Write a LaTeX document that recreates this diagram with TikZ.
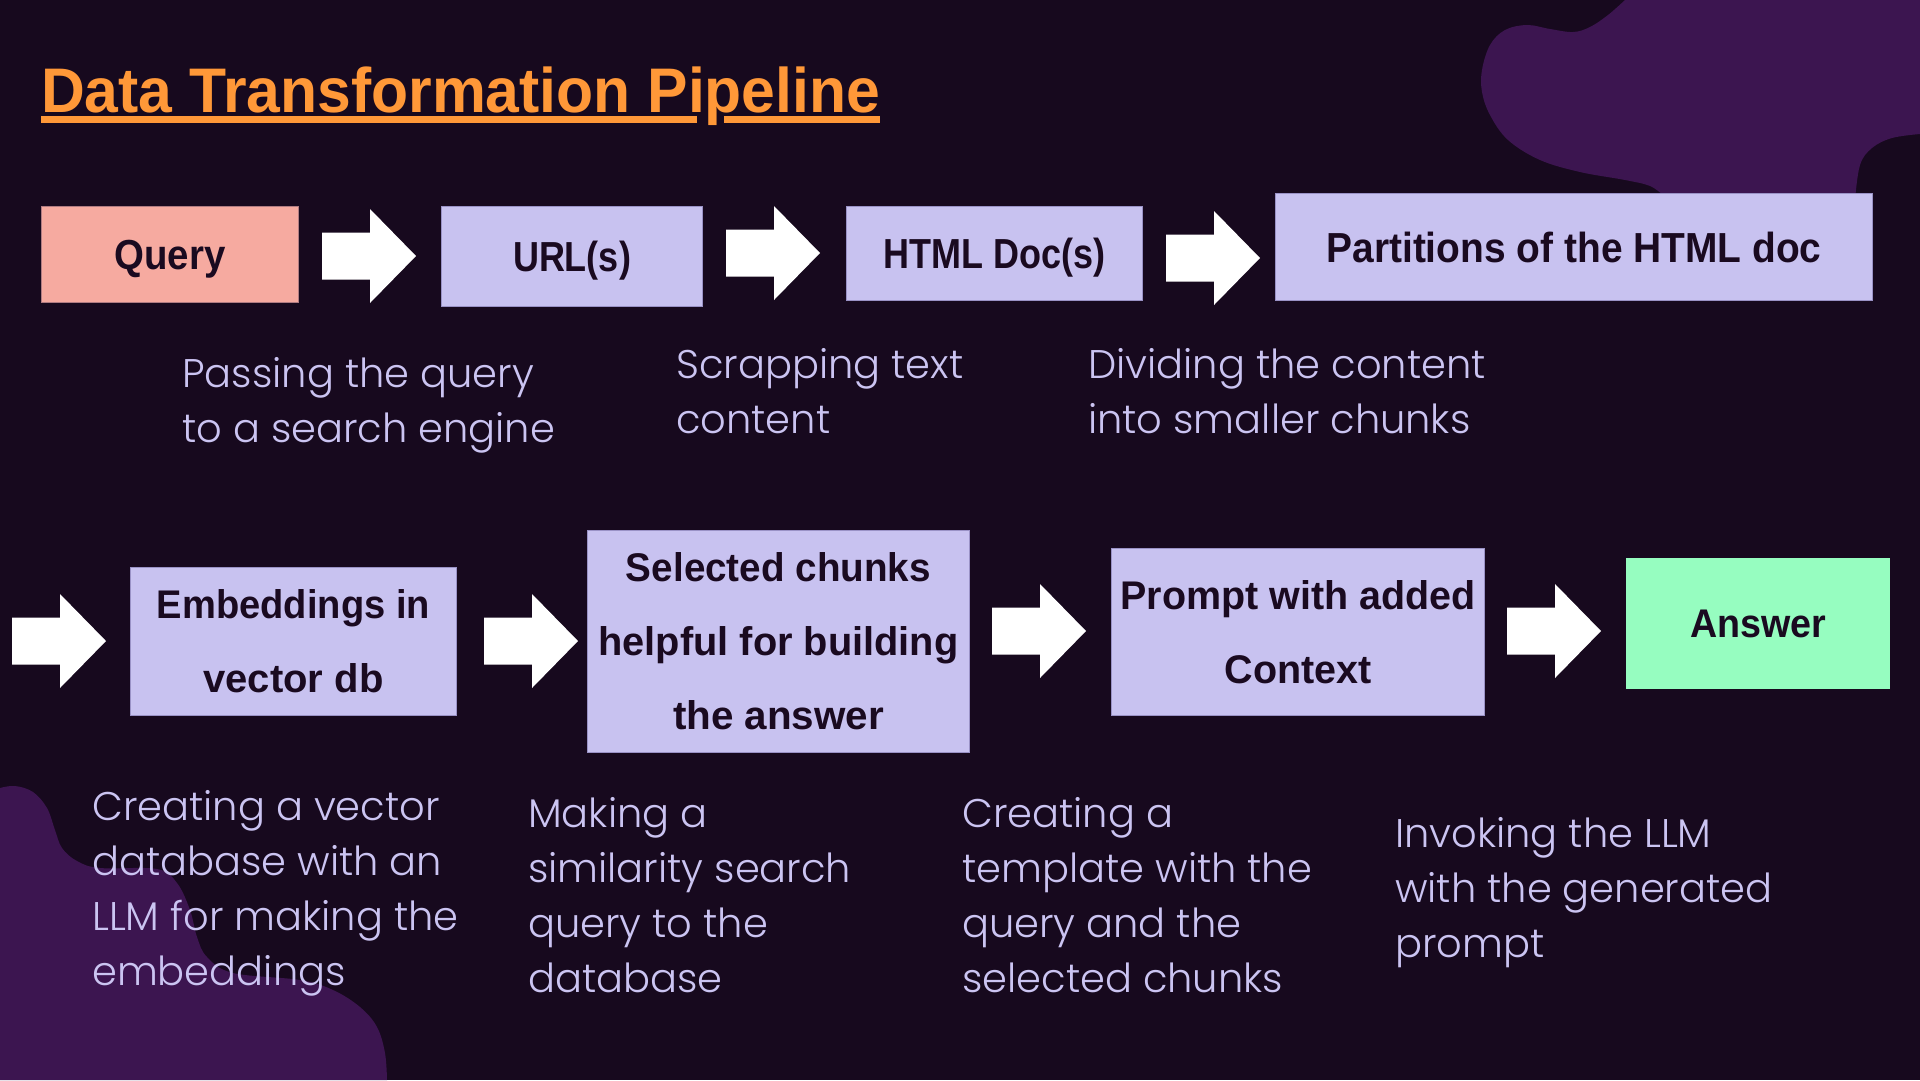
\documentclass[tikz,border=0pt]{standalone}
\usepackage{fontspec}
\usepackage{graphicx}
% thin geometric face for the step descriptions
\IfFontExistsTF{Poppins Light}
  {\newfontfamily\descfont{Poppins Light}}
  {\newfontfamily\descfont{Poppins}}
% heavy face for the stage labels and the heading
\newfontfamily\labelfont{Liberation Sans}

\definecolor{bgc}{HTML}{17091E}
\definecolor{blobc}{HTML}{3C1550}
\definecolor{lav}{HTML}{C8C2F0}
\definecolor{lavedge}{HTML}{9A92C6}
\definecolor{salmon}{HTML}{F6AAA0}
\definecolor{salmonedge}{HTML}{B07C82}
\definecolor{mint}{HTML}{96FDC0}
\definecolor{ink}{HTML}{1A0A20}
\definecolor{heading}{HTML}{FF9838}
\definecolor{descc}{HTML}{CBC4F2}

% cap height of one label line
\newlength\capht
% one label line: fixed cap height, stretched to a set width
\newcommand\bl[2]{\vrule height\capht depth0pt width0pt\smash{\resizebox{#1}{\height}{#2}}}
% centred stack of label lines
\newcommand\boxlines[1]{\vbox{\baselineskip=74pt\lineskiplimit=-200pt\lineskip=0pt\halign{\hfil##\hfil\cr#1\crcr}}}
% left aligned description, baseline on its first line
\newcommand\desclines[1]{\vtop{\baselineskip=55pt\lineskiplimit=-200pt\lineskip=0pt\halign{##\hfil\cr#1\crcr}}}

\tikzset{
  stage/.style={rectangle, anchor=north west, inner sep=0pt, line width=1pt,
    draw=lavedge, fill=lav, text=ink},
  rowone/.style={font={\labelfont\bfseries\fontsize{42}{42}\selectfont\setlength\capht{30pt}}},
  rowtwo/.style={font={\labelfont\bfseries\fontsize{40}{40}\selectfont\setlength\capht{28.5pt}}},
  desc/.style={anchor=base west, inner sep=0pt, text=descc,
    font={\descfont\fontsize{40}{55}\selectfont}},
  pics/blockarr/.style={code={
    \fill[white] (0,-23.5) -- (48,-23.5) -- (48,-47) -- (94,0) -- (48,47)
      -- (48,23.5) -- (0,23.5) -- cycle;}}
}

\begin{document}
\begin{tikzpicture}[x=1pt, y=-1pt]
\useasboundingbox (0,0) rectangle (1920,1080);
\fill[bgc] (0,0) rectangle (1920,1080);

% decorative blobs
\fill[blobc] plot[smooth, tension=0.6] coordinates {
  (1625,0) (1608,15) (1590,27) (1573,32) (1550,29) (1527,25) (1505,30)
  (1490,45) (1482,70) (1482,92) (1490,115) (1508,140) (1540,160)
  (1580,172) (1625,180) (1650,186) (1664,196)}
  -- (1664,260) -- (1852,260) --
  plot[smooth, tension=0.6] coordinates {(1855,200) (1860,165) (1872,148) (1892,138) (1920,134)}
  -- (1920,0) -- cycle;
\fill[blobc] plot[smooth, tension=0.6] coordinates {
  (0,788) (15,786) (33,792) (47,808) (55,830) (62,848) (77,861) (100,868)
  (157,869) (177,883) (190,910) (197,937) (207,957) (233,973) (300,980)
  (333,990) (360,1007) (377,1027) (385,1053) (387,1080)}
  -- (0,1080) -- cycle;

% heading
\node[anchor=base west, inner sep=0pt, text=heading,
  font={\labelfont\bfseries\fontsize{63}{63}\selectfont}] (title) at (41,112)
  {\resizebox{839pt}{\height}{Data Transformation Pipeline}};
\fill[heading] (41,116) rectangle (697,123);
\fill[heading] (724,116) rectangle (880,123);

% first row of stages
\node[stage, rowone, fill=salmon, draw=salmonedge, minimum width=257pt, minimum height=96pt]
  (query) at (41,206) {\boxlines{\bl{111pt}{Query}}};
\node[stage, rowone, minimum width=261pt, minimum height=100pt]
  (urls) at (441,206) {\boxlines{\bl{118pt}{URL(s)}}};
\node[stage, rowone, minimum width=296pt, minimum height=94pt]
  (html) at (846,206) {\boxlines{\bl{222pt}{HTML Doc(s)}}};
\node[stage, rowone, minimum width=597pt, minimum height=107pt]
  (parts) at (1275,193) {\boxlines{\bl{495pt}{Partitions of the HTML doc}}};

% second row of stages
\node[stage, rowtwo, minimum width=326pt, minimum height=148pt]
  (embed) at (130,567) {\boxlines{\bl{273pt}{Embeddings in}\cr\bl{180pt}{vector db}}};
\node[stage, rowtwo, minimum width=382pt, minimum height=222pt]
  (chunks) at (587,530) {\boxlines{\bl{305pt}{Selected chunks}\cr\bl{360pt}{helpful for building}\cr\bl{211pt}{the answer}}};
\node[stage, rowtwo, minimum width=373pt, minimum height=167pt]
  (prompt) at (1111,548) {\boxlines{\bl{355pt}{Prompt with added}\cr\bl{147pt}{Context}}};
\node[stage, rowtwo, fill=mint, draw=mint, minimum width=263pt, minimum height=130pt]
  (answer) at (1626,558) {\boxlines{\bl{136pt}{Answer}}};

% block arrows between the stages
\pic (a1) at (322,256) {blockarr};
\pic (a2) at (726,253) {blockarr};
\pic (a3) at (1166,258) {blockarr};
\pic (a4) at (12,641) {blockarr};
\pic (a5) at (484,641) {blockarr};
\pic (a6) at (992,631) {blockarr};
\pic (a7) at (1507,631) {blockarr};

% step descriptions
\node[desc] (d1) at (182,387) {\desclines{Passing the query\cr to a search engine}};
\node[desc] (d2) at (676,378) {\desclines{Scrapping text\cr content}};
\node[desc] (d3) at (1088,378) {\desclines{Dividing the content\cr into smaller chunks}};
\node[desc] (d4) at (92,820) {\desclines{Creating a vector\cr database with an\cr LLM for making the\cr embeddings}};
\node[desc] (d5) at (528,827) {\desclines{Making a\cr similarity search\cr query to the\cr database}};
\node[desc] (d6) at (962,827) {\desclines{Creating a\cr template with the\cr query and the\cr selected chunks}};
\node[desc] (d7) at (1395,847) {\desclines{Invoking the LLM\cr with the generated\cr prompt}};
\end{tikzpicture}
\end{document}
